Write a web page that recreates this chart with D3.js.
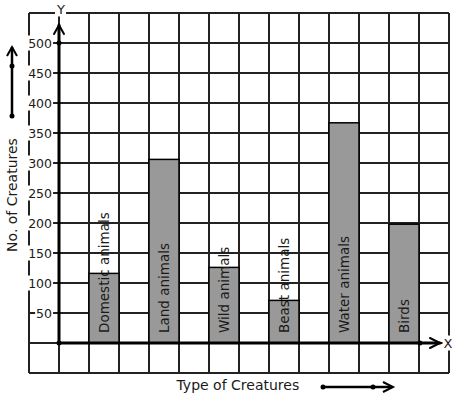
<!DOCTYPE html>
<html><head><meta charset="utf-8">
<script src="https://cdn.jsdelivr.net/npm/d3@7"></script>
<style>html,body{margin:0;padding:0;background:#fff;}svg{display:block;font-family:"DejaVu Sans",sans-serif;}</style>
</head><body>
<svg id="c" width="457" height="399"></svg>
<script>
const categories = ["Domestic animals","Land animals","Wild animals","Beast animals","Water animals","Birds"];
const values = [116, 306, 126, 71, 367, 198];
const yTicks = [50,100,150,200,250,300,350,400,450,500];
const yTitle = "No. of Creatures";
const xTitle = "Type of Creatures";

const svg = d3.select("#c");
const x = d3.scaleBand().domain(categories).range([59, 449]).paddingInner(0.5).paddingOuter(0.5);
const y = d3.scaleLinear().domain([0, 500]).range([343, 43]);
const gx = d3.scaleLinear().domain([-1, 13]).range([29, 449]);
const gridYVals = d3.range(-50, 551, 50);
const gridXVals = d3.range(-1, 14, 1);
const ink = "#1a1a1a";

// grid
const grid = svg.append("g").attr("stroke", "#222").attr("stroke-width", 1.2).attr("shape-rendering","crispEdges");
grid.selectAll("line.h").data(gridYVals).join("line").attr("class","h")
  .attr("x1", gx(-1)).attr("x2", gx(13)).attr("y1", d => y(d)).attr("y2", d => y(d));
grid.selectAll("line.v").data(gridXVals).join("line").attr("class","v")
  .attr("x1", d => gx(d)).attr("x2", d => gx(d)).attr("y1", y(-50)).attr("y2", y(550));

// bars
svg.append("g").selectAll("rect").data(values).join("rect")
  .attr("x", (d,i) => x(categories[i])).attr("width", x.bandwidth())
  .attr("y", d => y(d)).attr("height", d => y(0) - y(d))
  .attr("fill", "#999").attr("stroke", "#000").attr("stroke-width", 1.5);

// bar labels
svg.append("g").selectAll("text").data(categories).join("text")
  .attr("transform", d => `translate(${x(d) + x.bandwidth()/2 + 4.5},${y(0) - 10}) rotate(-90)`)
  .attr("font-size", 13.5).attr("fill", ink).text(d => d);

// labels with white background
function labelWithBg(g, txt, px, py, anchor, size) {
  const t = g.append("text").attr("x", px).attr("y", py).attr("text-anchor", anchor)
    .attr("font-size", size).attr("fill", ink).attr("dominant-baseline","central").text(txt);
  const b = t.node().getBBox();
  g.insert("rect", "text").attr("x", b.x - 1).attr("y", b.y).attr("width", b.width + 2).attr("height", b.height).attr("fill", "#fff");
  return t;
}
const tl = svg.append("g");
yTicks.forEach(v => {
  const g = tl.append("g");
  labelWithBg(g, String(v), 52, y(v), "end", 12.5);
});

// axes
const ax = svg.append("g").attr("stroke", "#000").attr("fill", "none").attr("stroke-linecap","round");
const axX0 = gx(0), axY0 = y(0);
const yTip = y(530), xTip = gx(12.7);
ax.append("line").attr("x1", axX0).attr("x2", axX0).attr("y1", axY0).attr("y2", yTip).attr("stroke-width", 3);
ax.append("path").attr("d", `M${axX0-5},${yTip+9}L${axX0},${yTip}L${axX0+5},${yTip+9}`).attr("stroke-width", 2);
ax.append("line").attr("x1", axX0).attr("x2", xTip).attr("y1", axY0).attr("y2", axY0).attr("stroke-width", 3);
ax.append("path").attr("d", `M${xTip-10},${axY0-5}L${xTip},${axY0}L${xTip-10},${axY0+5}`).attr("stroke-width", 2);
const dots = [[axX0, y(500)], [axX0, axY0], [gx(12.03), axY0]];
svg.append("g").selectAll("circle").data(dots).join("circle").attr("cx", d => d[0]).attr("cy", d => d[1]).attr("r", 2.5).attr("fill", "#000");

// axis letters
labelWithBg(svg.append("g"), "Y", axX0 + 2, 9, "middle", 13);
labelWithBg(svg.append("g"), "X", 448, axY0, "middle", 13);

// titles
svg.append("text").attr("transform", `translate(17,195) rotate(-90)`).attr("text-anchor","middle")
  .attr("font-size", 14).attr("fill", ink).text(yTitle);
svg.append("text").attr("x", 176.5).attr("y", 390).attr("font-size", 14).attr("fill", ink).text(xTitle);

// decorative arrows
const deco = svg.append("g").attr("stroke", "#000").attr("fill", "none").attr("stroke-width", 2.5);
deco.append("line").attr("x1", 12).attr("x2", 12).attr("y1", 116).attr("y2", 47);
deco.append("path").attr("d", "M7,56L12,47L17,56").attr("stroke-width", 2);
deco.append("line").attr("x1", 323).attr("x2", 392).attr("y1", 387).attr("y2", 387);
deco.append("path").attr("d", "M383,382L393,387L383,392").attr("stroke-width", 2);
svg.append("g").selectAll("circle").data([[12,116],[12,66],[323,387],[373,387]]).join("circle")
  .attr("cx", d => d[0]).attr("cy", d => d[1]).attr("r", 2.5).attr("fill", "#000");
</script>
</body></html>
